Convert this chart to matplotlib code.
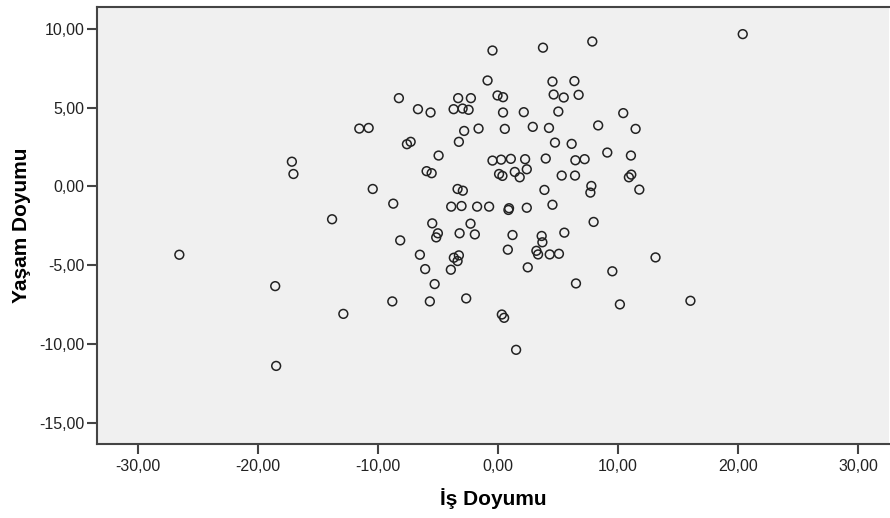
import matplotlib
matplotlib.use("Agg")
import matplotlib.pyplot as plt
from matplotlib.ticker import FuncFormatter

plt.rcParams['font.family'] = ['Liberation Sans', 'DejaVu Sans']

# Values (İş Doyumu vs Yaşam Doyumu)
is_doyumu = [
    -0.46, 3.75, 7.86, 20.40, -0.87, 4.54, 6.37, -8.26, -3.32, -2.26,
    -0.04, 0.42, 4.64, 5.48, 6.72, -6.67, -5.62, -3.70, -2.95, -2.45,
    0.42, 2.15, 5.03, 10.44, -11.56, -10.78, -2.82, -1.62, 0.57, 2.90,
    4.25, 8.35, 11.47, -7.59, -7.28, -3.26, 4.75, 6.14, -4.95, -0.46,
    0.26, 1.07, 2.26, 3.98, 6.45, 7.22, 9.11, 11.08, -17.18, -17.05,
    -5.95, -5.53, 0.09, 0.37, 1.40, 1.81, 2.40, 5.31, 6.42, 10.91,
    11.11, 7.78, 7.70, 11.78, -10.44, -3.37, -2.93, 3.87, -8.73, -13.83,
    -3.90, -3.04, -1.74, -0.74, 0.92, 0.87, 2.40, 4.54, 7.97, -5.48,
    -2.29, -5.01, -5.15, -3.20, -1.93, 1.21, 3.64, 3.70, 5.53, -8.15,
    0.82, 3.20, 3.34, 4.31, 5.08, -6.51, -3.68, -3.26, -3.37, -6.07,
    -3.93, 2.48, 6.50, -5.28, -18.57, -26.56, -8.81, -5.68, -2.65, -12.89,
    0.32, 0.51, 1.51, -18.49, 9.53, 10.16, 16.04, 13.13,
]
yasam_doyumu = [
    8.62, 8.80, 9.19, 9.66, 6.72, 6.65, 6.68, 5.60, 5.60, 5.60,
    5.77, 5.66, 5.83, 5.64, 5.81, 4.90, 4.69, 4.90, 4.94, 4.86,
    4.69, 4.71, 4.75, 4.65, 3.67, 3.71, 3.52, 3.67, 3.65, 3.78,
    3.71, 3.87, 3.65, 2.68, 2.83, 2.83, 2.78, 2.70, 1.96, 1.64,
    1.70, 1.75, 1.73, 1.77, 1.66, 1.73, 2.15, 1.96, 1.57, 0.79,
    0.97, 0.84, 0.79, 0.67, 0.92, 0.58, 1.09, 0.69, 0.69, 0.58,
    0.75, 0.03, -0.39, -0.20, -0.16, -0.16, -0.27, -0.22, -1.09, -2.08,
    -1.28, -1.24, -1.28, -1.28, -1.38, -1.49, -1.35, -1.16, -2.25, -2.34,
    -2.36, -2.97, -3.23, -2.97, -3.04, -3.08, -3.14, -3.54, -2.93, -3.42,
    -4.01, -4.08, -4.31, -4.31, -4.27, -4.33, -4.52, -4.37, -4.73, -5.24,
    -5.28, -5.13, -6.15, -6.19, -6.32, -4.33, -7.29, -7.29, -7.10, -8.08,
    -8.12, -8.33, -10.36, -11.38, -5.38, -7.48, -7.25, -4.50,
]
x_ticks = [-30, -20, -10, 0, 10, 20, 30]
y_ticks = [-15, -10, -5, 0, 5, 10]


def comma_fmt(v, pos):
    return f"{v:.2f}".replace(".", ",")


fig = plt.figure(figsize=(8.9, 5.18), dpi=100)
ax = fig.add_axes([0.1093, 0.1429, 0.8897, 0.8436])
ax.set_facecolor('#f0f0f0')

ax.scatter(is_doyumu, yasam_doyumu, s=40, facecolors='none',
           edgecolors='#222222', linewidths=1.1, zorder=3)

ax.set_xlim(-33.4, 32.6)
ax.set_ylim(-16.33, 11.38)
ax.set_xticks(x_ticks)
ax.set_yticks(y_ticks)
ax.xaxis.set_major_formatter(FuncFormatter(comma_fmt))
ax.yaxis.set_major_formatter(FuncFormatter(comma_fmt))
ax.tick_params(axis='both', direction='out', length=7, width=1.5,
               color='#444444', labelsize=11.5, labelcolor='#222222', pad=2)
ax.tick_params(axis='x', pad=4)

for side in ['left', 'bottom', 'top']:
    ax.spines[side].set_color('#444444')
    ax.spines[side].set_linewidth(1.5)
ax.spines['right'].set_visible(False)

ax.set_xlabel('İş Doyumu', fontsize=15, fontweight='bold', labelpad=10)
ax.set_ylabel('Yaşam Doyumu', fontsize=15, fontweight='bold', labelpad=6)

fig.savefig('out.png', dpi=100, facecolor='white')
